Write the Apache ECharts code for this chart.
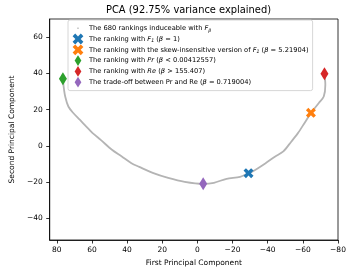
<!DOCTYPE html>
<html><head><meta charset="utf-8">
<script src="https://cdn.jsdelivr.net/npm/echarts@6/dist/echarts.min.js"></script>
<style>html,body{margin:0;padding:0;background:#fff}#c{width:353px;height:272px}</style>
</head><body><div id="c"></div>
<script>
// ---- data ----
const curveX = [76.5, 76.1, 75.2, 73.4, 70.6, 66.9, 63.3, 59.6, 55.0, 48.6, 43.0, 37.5, 33.1, 25.4, 16.6, 7.2, -3.3, -9.4, -16.6, -24.3, -29.1, -31.4, -38.8, -44.3, -48.9, -53.5, -57.2, -60.9, -64.6, -69.1, -71.9, -72.8, -72.3];
const curveY = [37.0, 32.8, 27.2, 21.7, 18.1, 14.4, 10.7, 7.0, 3.3, -2.2, -5.9, -9.6, -11.6, -14.9, -17.7, -19.9, -21.0, -20.4, -18.2, -17.1, -15.1, -14.2, -9.6, -5.9, -3.1, 2.4, 7.0, 12.5, 18.1, 23.6, 27.2, 33.7, 39.8];
const f1Point = [-29.1, -15.1];
const skewPoint = [-64.6, 18.2];
const prPoint = [76.5, 37.0];
const rePoint = [-72.3, 39.8];
const tradeoffPoint = [-3.3, -21.0];
const xTicks = [-80, -60, -40, -20, 0, 20, 40, 60, 80];
const yTicks = [-40, -20, 0, 20, 40, 60];
const seriesNames = [
  'The 680 rankings induceable with Fβ',
  'The ranking with F1 (β = 1)',
  'The ranking with the skew-insensitive version of F1 (β = 5.21904)',
  'The ranking with Pr (β < 0.00412557)',
  'The ranking with Re (β > 155.407)',
  'The trade-off between Pr and Re (β = 0.719004)'
];
const richLabels = [
  'The 680 rankings induceable with {i|F}{sub|β}',
  'The ranking with {i|F}{sub|1} ({i|β} = 1)',
  'The ranking with the skew-insensitive version of {i|F}{sub|1} ({i|β} = 5.21904)',
  'The ranking with {i|Pr} ({i|β} < 0.00412557)',
  'The ranking with {i|Re} ({i|β} > 155.407)',
  'The trade-off between Pr and Re ({i|β} = 0.719004)'
];
// ---- shapes ----
function xPath(t){
  const L = 1;
  const pts = [[t,L],[t,t],[L,t],[L,-t],[t,-t],[t,-L],[-t,-L],[-t,-t],[-L,-t],[-L,t],[-t,t],[-t,L]];
  const r = pts.map(p => [((p[0]-p[1])/Math.SQRT2).toFixed(3), ((p[0]+p[1])/Math.SQRT2).toFixed(3)]);
  return 'path://M' + r.map(p => p[0] + ',' + p[1]).join(' L') + ' Z';
}
const X_SYM = xPath(0.32);
const DIAM = 'path://M0,-1 L0.62,0 L0,1 L-0.62,0 Z';
const DOT = 'path://M0,0 L0.01,0 L0.01,0.01 Z M5.3,4.6 L6.7,4.6 L6.7,6.0 L5.3,6.0 Z M12,10.6 L12.01,10.6 L12.01,10.61 Z';
const FONT = 'DejaVu Sans';
const colors = ['#bbbbbb', '#1f77b4', '#ff7f0e', '#2ca02c', '#d62728', '#9467bd'];

const chart = echarts.init(document.getElementById('c'), null, {renderer: 'canvas'});
const minus = v => v < 0 ? '\u2212' + (-v) : String(v);
const pts = [f1Point, skewPoint, prPoint, rePoint, tradeoffPoint];
const syms = [X_SYM, X_SYM, 'diamond', 'diamond', 'diamond'];
const sizes = [[10,10],[10,10],[8,13],[8,13],[8,13]];
const scatterSeries = pts.map((p, i) => ({
  name: seriesNames[i+1], type: 'scatter', data: [p],
  symbol: syms[i], symbolSize: sizes[i], z: 5,
  itemStyle: {color: colors[i+1], opacity: 1}
}));
chart.setOption({
  animation: false,
  textStyle: {fontFamily: FONT},
  title: {
    text: 'PCA (92.75% variance explained)', left: 106, top: 1,
    padding: [4, 0, 4, 0],
    textStyle: {fontFamily: FONT, fontSize: 9.9, fontWeight: 'normal', color: '#000'}
  },
  grid: {left: 41, right: 15, top: 19, bottom: 32, show: true, borderColor: '#000', borderWidth: 0.8, backgroundColor: 'transparent'},
  xAxis: {
    type: 'value', inverse: true, min: -80, max: 84,
    name: 'First Principal Component', nameLocation: 'middle', nameGap: 16,
    nameTextStyle: {fontFamily: FONT, fontSize: 7.5, color: '#000'},
    axisLine: {onZero: false, lineStyle: {color: '#000', width: 0.8}},
    axisTick: {show: true, length: 3.5, lineStyle: {color: '#000', width: 0.8}, customValues: xTicks},
    axisLabel: {customValues: xTicks, formatter: minus, fontFamily: FONT, fontSize: 7.5, color: '#000', margin: 6},
    splitLine: {show: false}
  },
  yAxis: {
    type: 'value', min: -52, max: 70,
    name: 'Second Principal Component', nameLocation: 'middle', nameGap: 27,
    nameTextStyle: {fontFamily: FONT, fontSize: 7.5, color: '#000'},
    axisLine: {show: true, onZero: false, lineStyle: {color: '#000', width: 0.8}},
    axisTick: {show: true, length: 3.5, lineStyle: {color: '#000', width: 0.8}, customValues: yTicks},
    axisLabel: {customValues: yTicks, formatter: minus, fontFamily: FONT, fontSize: 7.5, color: '#000', margin: 7},
    splitLine: {show: false}
  },
  legend: {
    orient: 'vertical', left: 68, top: 20,
    padding: [3, 4, 3, 4], itemWidth: 12, itemHeight: 10.8, itemGap: 0,
    backgroundColor: 'rgba(255,255,255,0.85)', borderColor: '#cccccc', borderWidth: 0.8, borderRadius: 2,
    itemStyle: {borderWidth: 0},
    data: seriesNames.map((n, i) => ({name: n, icon: i === 0 ? DOT : (i < 3 ? X_SYM : DIAM)})),
    formatter: name => richLabels[seriesNames.indexOf(name)],
    textStyle: {
      fontFamily: FONT, fontSize: 6.7, color: '#000', lineHeight: 9,
      rich: {
        i: {fontFamily: FONT, fontSize: 6.7, fontStyle: 'italic', color: '#000', lineHeight: 9},
        sub: {fontFamily: FONT, fontSize: 4.7, fontStyle: 'italic', color: '#000', verticalAlign: 'bottom', lineHeight: 9, padding: [3, 0, 0, 0]}
      }
    }
  },
  series: [{
    name: seriesNames[0], type: 'line', data: curveX.map((x, i) => [x, curveY[i]]),
    showSymbol: false, smooth: 0.3, z: 2,
    itemStyle: {color: colors[0]},
    lineStyle: {color: '#b4b4b4', width: 1.8}
  }].concat(scatterSeries)
});
</script></body></html>
